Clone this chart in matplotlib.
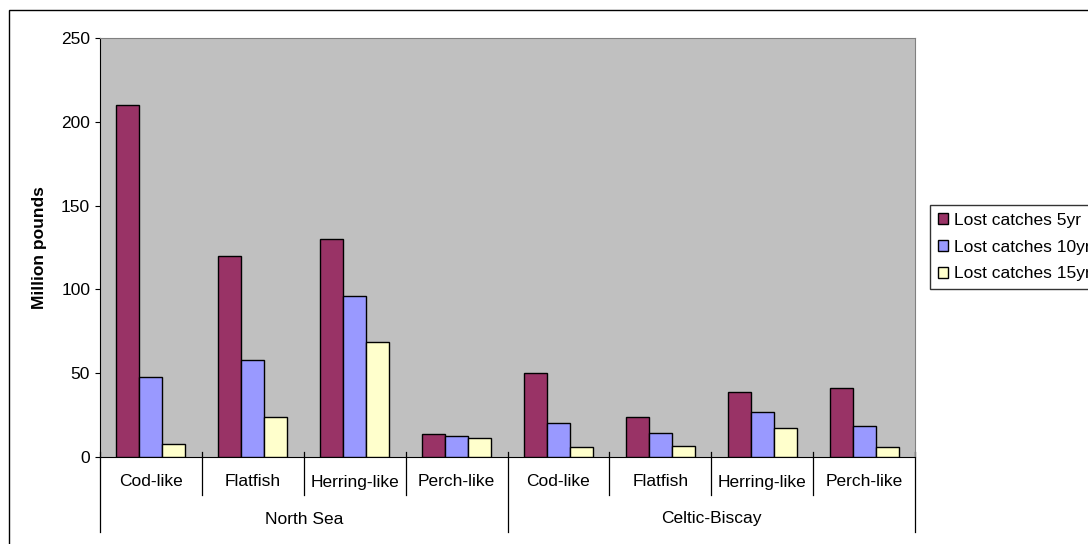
import matplotlib
matplotlib.use("Agg")
import matplotlib.pyplot as plt
from matplotlib.patches import Rectangle
from matplotlib.lines import Line2D
import numpy as np

plt.rcParams['font.family'] = ['Liberation Sans', 'DejaVu Sans']

regions = ["North Sea", "Celtic-Biscay"]
categories = ["Cod-like", "Flatfish", "Herring-like", "Perch-like",
              "Cod-like", "Flatfish", "Herring-like", "Perch-like"]
series_names = ["Lost catches 5yr", "Lost catches 10yr", "Lost catches 15yr"]
lost_5yr = [210, 120, 130, 13.7, 50, 24, 38.6, 41]
lost_10yr = [48, 58, 96, 12.5, 20, 14.3, 26.7, 18.3]
lost_15yr = [8, 24, 68.4, 11.3, 6.2, 6.8, 17.5, 6.2]
colors = ["#993366", "#9999FF", "#FFFFCC"]
yticks = [0, 50, 100, 150, 200, 250]

FS = 12.5
W, H = 1088, 544
fig = plt.figure(figsize=(W/100, H/100), dpi=100)
fig.patch.set_facecolor("white")

# outer chart border (cut at right/bottom)
fig.patches.append(Rectangle((9/W, -0.1), 2, 1.1 - 10/H, transform=fig.transFigure,
                             fill=False, edgecolor="black", linewidth=1.0))

L, R, T, B = 100, 915, 38, 457
ax = fig.add_axes([L/W, 1 - B/H, (R-L)/W, (B-T)/H])
ax.set_facecolor("#C0C0C0")

n = len(categories)
x = np.arange(n)
bw = 0.226
for i, (vals, c, name) in enumerate(zip([lost_5yr, lost_10yr, lost_15yr], colors, series_names)):
    ax.bar(x + (i-1)*bw, vals, width=bw, color=c, edgecolor="black", linewidth=1.0, label=name, zorder=3)

ax.set_xlim(-0.5, n-0.5)
ax.set_ylim(0, 250)
ax.set_yticks(yticks)
ax.tick_params(axis="y", direction="out", length=3.6, width=0.8, labelsize=FS, pad=3.5, colors="black")
ax.set_xticks([])
for s in ["top", "right"]:
    ax.spines[s].set_color("#808080")
for s in ["left", "bottom"]:
    ax.spines[s].set_color("black")
ax.set_ylabel("Million pounds", fontsize=FS, fontweight="bold", labelpad=10)

tr = ax.get_xaxis_transform()
# category separators
for b in np.arange(-0.5, n, 1.0):
    is_group = b in (-0.5, 3.5, 7.5)
    y_end = -(532-457)/(B-T) if is_group else -(495-457)/(B-T)
    ax.add_line(Line2D([b, b], [5/(B-T), y_end], transform=tr, color="black", linewidth=0.9, clip_on=False))
for xi, cat in zip(x, categories):
    ax.text(xi, -(482-457)/(B-T), cat, transform=tr, ha="center", va="center", fontsize=FS)
for gi, reg in enumerate(regions):
    ax.text(gi*4 + 1.5, -(519-457)/(B-T), reg, transform=tr, ha="center", va="center", fontsize=FS)

leg = fig.legend(loc="upper left", bbox_to_anchor=(930/W, 1 - 205/H), frameon=True, fancybox=False,
                 shadow=False, fontsize=FS, handlelength=0.6, handleheight=0.6, handletextpad=0.35,
                 labelspacing=0.68, borderpad=0.45, borderaxespad=0)
leg.get_frame().set_edgecolor("black")
leg.get_frame().set_linewidth(1.0)

fig.savefig("out.png", dpi=100)
